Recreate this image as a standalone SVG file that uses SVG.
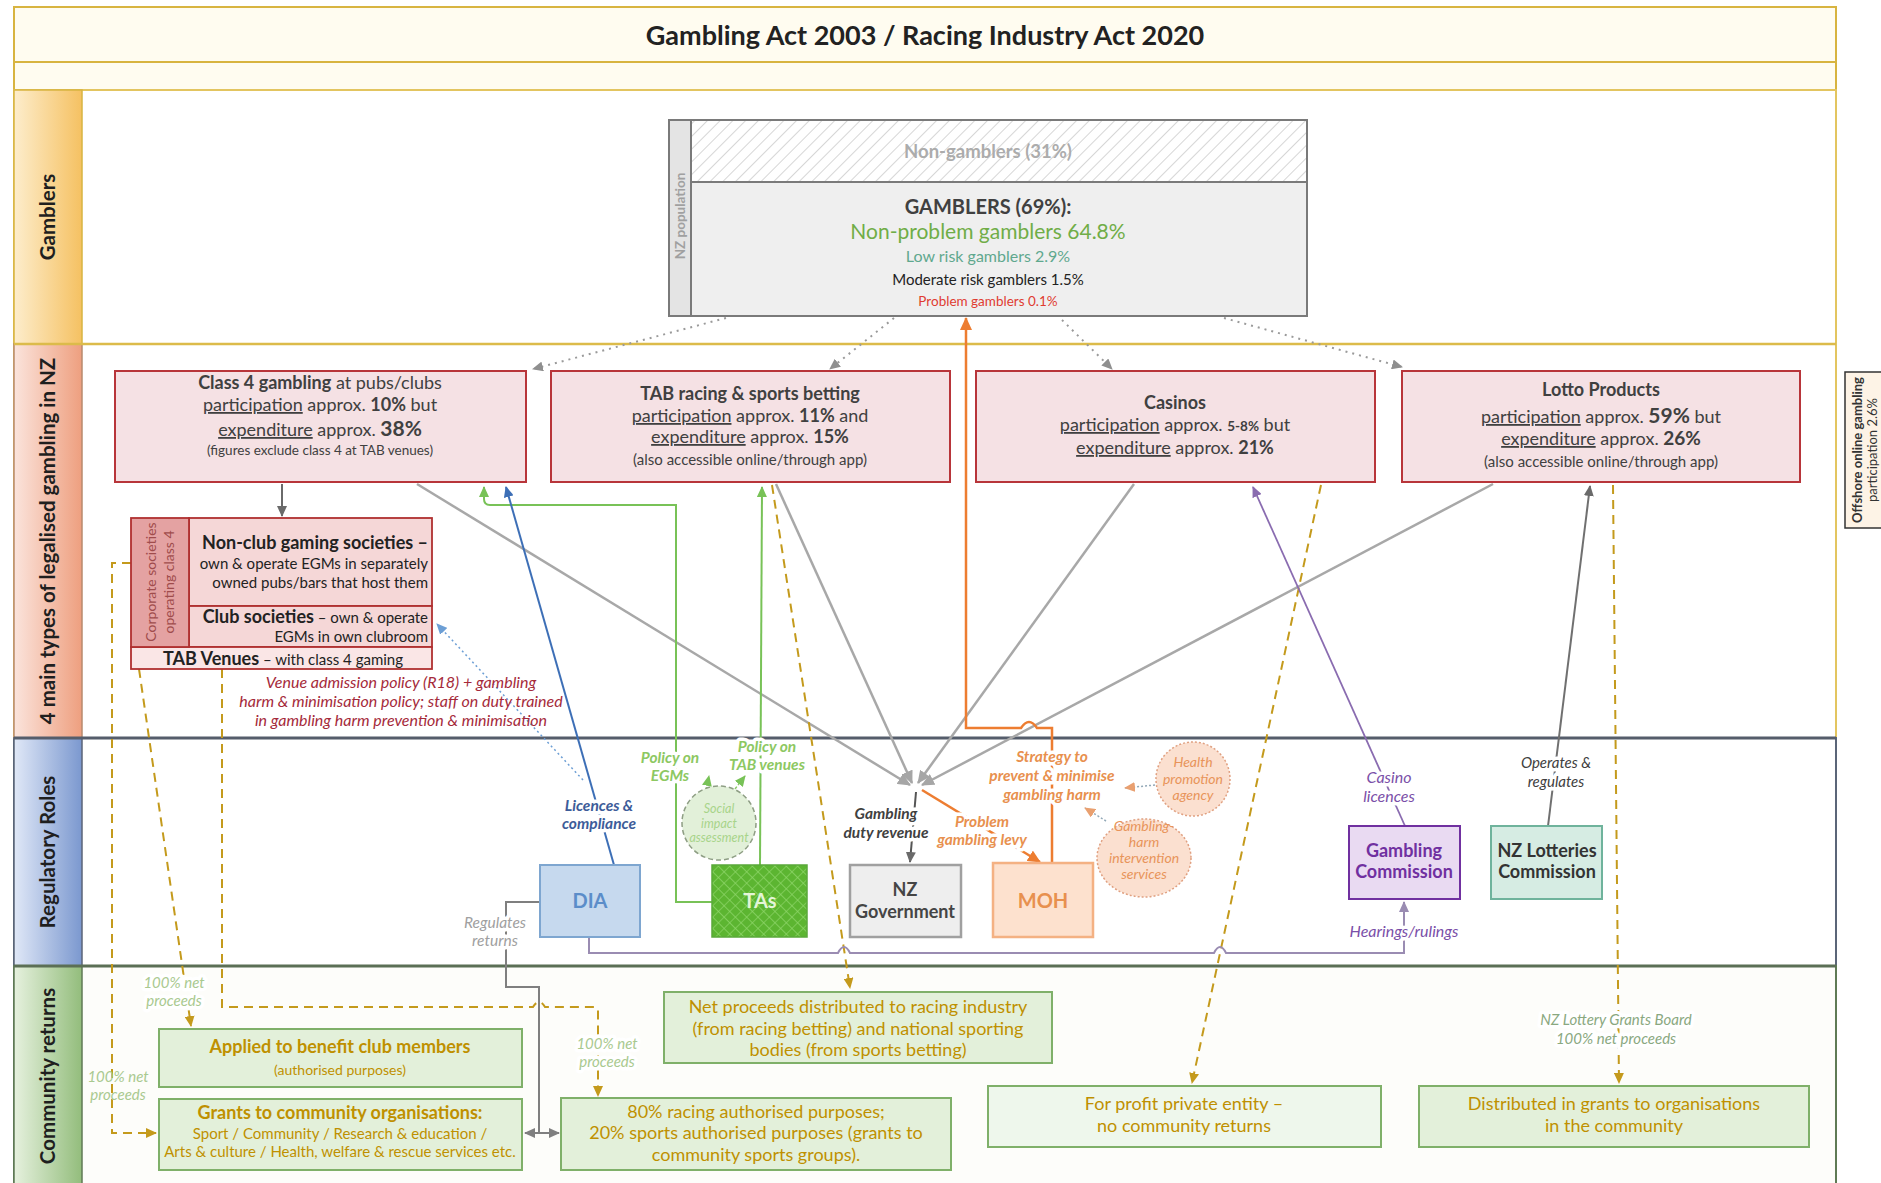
<svg xmlns="http://www.w3.org/2000/svg" width="1881" height="1183" viewBox="0 0 1881 1183">
<defs>
<style>
text{font-family:Lato,"Open Sans","Liberation Sans",sans-serif;}
.ll{font-size:20.5px;font-weight:700;fill:#1f1f1f;text-anchor:middle;}
.bx{fill:#f5e1e4;stroke:#b8353a;stroke-width:2;}
.bt{font-size:18px;fill:#404040;text-anchor:middle;}
.sm{font-size:15px;}
.u{text-decoration:underline;}
.b{font-weight:700;}
.cbox{fill:#e3f0da;stroke:#7fb069;stroke-width:2;}
.ct{font-size:18px;fill:#bf9000;text-anchor:middle;}
.halo{paint-order:stroke;stroke:#fff;stroke-width:7px;stroke-linejoin:round;}
.lbl{font-style:italic;font-weight:700;font-size:15.5px;text-anchor:middle;}
.nl{font-style:italic;font-size:15px;fill:#a9c98f;text-anchor:middle;}
.ci{font-style:italic;text-anchor:middle;}
.ln{fill:none;}
.gray{stroke:#a8a8a8;stroke-width:2.5;}
.gold{stroke:#c49a1c;stroke-width:2;stroke-dasharray:9 6;}
</style>
<marker id="aGray" markerUnits="userSpaceOnUse" markerWidth="14" markerHeight="12" refX="12" refY="6" orient="auto"><path d="M0,0 L13,6 L0,12 z" fill="#a6a6a6"/></marker>
<marker id="aDot" markerUnits="userSpaceOnUse" markerWidth="12" markerHeight="10" refX="10" refY="5" orient="auto"><path d="M0,0 L11,5 L0,10 z" fill="#8f8f8f"/></marker>
<marker id="aDark" markerUnits="userSpaceOnUse" markerWidth="12" markerHeight="10" refX="10" refY="5" orient="auto"><path d="M0,0 L11,5 L0,10 z" fill="#6a6a6a"/></marker>
<marker id="aGreen" markerUnits="userSpaceOnUse" markerWidth="12" markerHeight="10" refX="10" refY="5" orient="auto"><path d="M0,0 L11,5 L0,10 z" fill="#78c257"/></marker>
<marker id="aBlue" markerUnits="userSpaceOnUse" markerWidth="12" markerHeight="10" refX="10" refY="5" orient="auto"><path d="M0,0 L11,5 L0,10 z" fill="#3d6fb6"/></marker>
<marker id="aLBlue" markerUnits="userSpaceOnUse" markerWidth="12" markerHeight="10" refX="10" refY="5" orient="auto"><path d="M0,0 L11,5 L0,10 z" fill="#6d9fd5"/></marker>
<marker id="aOrange" markerUnits="userSpaceOnUse" markerWidth="14" markerHeight="12" refX="12" refY="6" orient="auto"><path d="M0,0 L13,6 L0,12 z" fill="#ed7d31"/></marker>
<marker id="aLOrange" markerUnits="userSpaceOnUse" markerWidth="12" markerHeight="10" refX="10" refY="5" orient="auto"><path d="M0,0 L11,5 L0,10 z" fill="#e9a070"/></marker>
<marker id="aPurple" markerUnits="userSpaceOnUse" markerWidth="12" markerHeight="10" refX="10" refY="5" orient="auto"><path d="M0,0 L11,5 L0,10 z" fill="#8a6cb0"/></marker>
<marker id="aPG" markerUnits="userSpaceOnUse" markerWidth="12" markerHeight="10" refX="10" refY="5" orient="auto"><path d="M0,0 L11,5 L0,10 z" fill="#9a8cb2"/></marker>
<marker id="aGold" markerUnits="userSpaceOnUse" markerWidth="12" markerHeight="10" refX="10" refY="5" orient="auto"><path d="M0,0 L11,5 L0,10 z" fill="#c49a1c"/></marker>
<marker id="aGrey2" markerUnits="userSpaceOnUse" markerWidth="12" markerHeight="10" refX="10" refY="5" orient="auto"><path d="M0,0 L11,5 L0,10 z" fill="#7f7f7f"/></marker>
<pattern id="hatch" width="9" height="9" patternUnits="userSpaceOnUse" patternTransform="rotate(45)"><rect width="9" height="9" fill="#fff"/><line x1="0" y1="0" x2="0" y2="9" stroke="#c9c9c9" stroke-width="1.5"/></pattern>
<pattern id="tas" width="8" height="8" patternUnits="userSpaceOnUse" patternTransform="rotate(45)"><rect width="8" height="8" fill="#5cb531"/><path d="M0,0 H8 M0,0 V8" stroke="#8fd66a" stroke-width="1.3"/></pattern>
<linearGradient id="gG" x1="0" y1="0" x2="1" y2="0"><stop offset="0" stop-color="#fdedcc"/><stop offset="1" stop-color="#f5c162"/></linearGradient>
<linearGradient id="gR" x1="0" y1="0" x2="1" y2="0"><stop offset="0" stop-color="#fbe4dc"/><stop offset="1" stop-color="#ee9f7f"/></linearGradient>
<linearGradient id="gB" x1="0" y1="0" x2="1" y2="0"><stop offset="0" stop-color="#e0e8f7"/><stop offset="1" stop-color="#7b98cf"/></linearGradient>
<linearGradient id="gC" x1="0" y1="0" x2="1" y2="0"><stop offset="0" stop-color="#e6f1de"/><stop offset="1" stop-color="#93bd7c"/></linearGradient>
</defs>

<g id="frame">
<rect x="14" y="7" width="1822" height="55" fill="#fffcf0" stroke="#d8b440" stroke-width="2"/>
<rect x="14" y="62" width="1822" height="28" fill="#fffcf0" stroke="#d8b440" stroke-width="2"/>
<text x="925" y="45" style="font-size:27px;font-weight:700;fill:#222;text-anchor:middle">Gambling Act 2003 / Racing Industry Act 2020</text>
<rect x="14" y="90" width="1822" height="254" fill="#fff" stroke="#e3c560" stroke-width="2"/>
<rect x="14" y="344" width="1822" height="394" fill="#fff" stroke="#e3c560" stroke-width="2"/>
<rect x="14" y="738" width="1822" height="228" fill="#fff" stroke="#5b6578" stroke-width="2"/>
<rect x="14" y="966" width="1822" height="222" fill="#fdfdfa" stroke="#5f7a55" stroke-width="2"/>
<rect x="14" y="90" width="68" height="254" fill="url(#gG)" stroke="#d8b440" stroke-width="1.5"/>
<rect x="14" y="344" width="68" height="394" fill="url(#gR)" stroke="#b98a6e" stroke-width="1.5"/>
<rect x="14" y="738" width="68" height="228" fill="url(#gB)" stroke="#5b6578" stroke-width="1.5"/>
<rect x="14" y="966" width="68" height="222" fill="url(#gC)" stroke="#5f7a55" stroke-width="1.5"/>
<line x1="14" y1="344" x2="1836" y2="344" stroke="#dcbb4a" stroke-width="2.5"/>
<line x1="14" y1="738" x2="1836" y2="738" stroke="#555d6b" stroke-width="3"/>
<line x1="14" y1="966" x2="1836" y2="966" stroke="#5b6f55" stroke-width="3"/>
<text class="ll" transform="translate(55,217) rotate(-90)">Gamblers</text>
<text class="ll" transform="translate(55,541) rotate(-90)">4 main types of legalised gambling in NZ</text>
<text class="ll" transform="translate(55,852) rotate(-90)">Regulatory Roles</text>
<text class="ll" transform="translate(55,1076) rotate(-90)">Community returns</text>
</g>

<g id="connectors">
<path class="ln" d="M726,318 L533,369" stroke="#9a9a9a" stroke-width="2" stroke-dasharray="2 5" marker-end="url(#aDot)"/>
<path class="ln" d="M894,318 L830,369" stroke="#9a9a9a" stroke-width="2" stroke-dasharray="2 5" marker-end="url(#aDot)"/>
<path class="ln" d="M1062,320 L1112,369" stroke="#9a9a9a" stroke-width="2" stroke-dasharray="2 5" marker-end="url(#aDot)"/>
<path class="ln" d="M1224,318 L1402,367" stroke="#9a9a9a" stroke-width="2" stroke-dasharray="2 5" marker-end="url(#aDot)"/>
<path class="ln gray" d="M417,484 L910,785" marker-end="url(#aGray)"/>
<path class="ln gray" d="M776,484 L912,783" marker-end="url(#aGray)"/>
<path class="ln gray" d="M1134,484 L918,783" marker-end="url(#aGray)"/>
<path class="ln gray" d="M1493,484 L922,785" marker-end="url(#aGray)"/>
<path class="ln" d="M282,484 L282,516" stroke="#6a6a6a" stroke-width="2" marker-end="url(#aDark)"/>
<path class="ln gold" d="M772,485 L850,988" marker-end="url(#aGold)"/>
<path class="ln gold" d="M1321,485 L1192,1083" marker-end="url(#aGold)"/>
<path class="ln gold" d="M1613,485 L1619,1083" marker-end="url(#aGold)"/>
<path class="ln gold" d="M131,563 L112,563 L112,1133 L156,1133" marker-end="url(#aGold)"/>
<path class="ln gold" d="M139,669 L191,1026" marker-end="url(#aGold)"/>
<path class="ln gold" d="M222,669 L222,1007 L533,1007 Q539,997 545,1007 L594,1007 Q598,1007 598,1011 L598,1096" marker-end="url(#aGold)"/>
<path class="ln" d="M1052,863 L1052,728 L1037,728 Q1029,716 1021,728 L966,728 L966,318" stroke="#ed7d31" stroke-width="2.5" marker-end="url(#aOrange)"/>
<path class="ln" d="M916,792 L910,862" stroke="#555" stroke-width="2" marker-end="url(#aDark)"/>
<path class="ln" d="M922,790 L1040,862" stroke="#ed7d31" stroke-width="2.5" marker-end="url(#aOrange)"/>
<path class="ln" d="M712,902 L676,902 L676,505 L490,505 Q484,505 484,499 L484,487" stroke="#78c257" stroke-width="2" marker-end="url(#aGreen)"/>
<path class="ln" d="M760,865 L762,487" stroke="#78c257" stroke-width="2" marker-end="url(#aGreen)"/>
<path class="ln" d="M706,790 L709,776" stroke="#8cc86a" stroke-width="1.5" stroke-dasharray="3 2" marker-end="url(#aGreen)"/>
<path class="ln" d="M735,789 L745,776" stroke="#8cc86a" stroke-width="1.5" stroke-dasharray="3 2" marker-end="url(#aGreen)"/>
<path class="ln" d="M614,865 L506,487" stroke="#3d6fb6" stroke-width="2" marker-end="url(#aBlue)"/>
<path class="ln" d="M583,780 L437,624" stroke="#6d9fd5" stroke-width="1.5" stroke-dasharray="2 3" marker-end="url(#aLBlue)"/>
<path class="ln" d="M540,902 L506,902 L506,987 L539,987 L539,1133" stroke="#7f7f7f" stroke-width="2"/>
<path class="ln" d="M539,1133 L525,1133" stroke="#7f7f7f" stroke-width="2" marker-end="url(#aGrey2)"/>
<path class="ln" d="M539,1133 L559,1133" stroke="#7f7f7f" stroke-width="2" marker-end="url(#aGrey2)"/>
<path class="ln" d="M589,937 L589,953 L838,953 Q844,941 850,953 L1214,953 Q1220,941 1226,953 L1404,953 L1404,902" stroke="#9a8cb2" stroke-width="2" marker-end="url(#aPG)"/>
<path class="ln" d="M1405,826 L1253,487" stroke="#8a6cb0" stroke-width="1.8" marker-end="url(#aPurple)"/>
<path class="ln" d="M1548,826 L1590,486" stroke="#707070" stroke-width="2" marker-end="url(#aDark)"/>
<path class="ln" d="M1155,785 L1125,788" stroke="#93a9b8" stroke-width="1.5" stroke-dasharray="2 2" marker-end="url(#aLOrange)"/>
<path class="ln" d="M1106,821 L1085,808" stroke="#93a9b8" stroke-width="1.5" stroke-dasharray="2 2" marker-end="url(#aLOrange)"/>
</g>

<g id="gamblers">
<rect x="669" y="120" width="638" height="196" fill="#efefef" stroke="#7a7a7a" stroke-width="2"/>
<rect x="691" y="120" width="616" height="62" fill="url(#hatch)" stroke="#7a7a7a" stroke-width="2"/>
<rect x="669" y="120" width="22" height="196" fill="#e4e4e4" stroke="#7a7a7a" stroke-width="2"/>
<text transform="translate(685,216) rotate(-90)" style="font-size:13.5px;font-weight:700;fill:#a0a0a0;text-anchor:middle">NZ population</text>
<text x="988" y="158" style="font-size:18.5px;font-weight:700;fill:#acacac;text-anchor:middle">Non-gamblers (31%)</text>
<text x="988" y="214" style="font-size:20px;font-weight:700;fill:#404040;text-anchor:middle">GAMBLERS (69%):</text>
<text x="988" y="239" style="font-size:21px;fill:#70ad47;text-anchor:middle">Non-problem gamblers 64.8%</text>
<text x="988" y="262" style="font-size:16px;fill:#5fa88e;text-anchor:middle">Low risk gamblers 2.9%</text>
<text x="988" y="285" style="font-size:15px;fill:#222;text-anchor:middle">Moderate risk gamblers 1.5%</text>
<text x="988" y="306" style="font-size:13.5px;fill:#e03c31;text-anchor:middle">Problem gamblers 0.1%</text>
</g>

<g id="offshore">
<rect x="1845" y="372" width="45" height="156" fill="#fdf3e6" stroke="#333" stroke-width="1.5"/>
<text transform="translate(1862,450) rotate(-90)" style="font-size:13px;font-weight:700;fill:#333;text-anchor:middle">Offshore online gambling</text>
<text transform="translate(1877,450) rotate(-90)" style="font-size:13px;fill:#333;text-anchor:middle">participation 2.6%</text>
</g>

<g id="class4">
<rect class="bx" x="115" y="371" width="411" height="111"/>
<text class="bt" x="320" y="389"><tspan class="b">Class 4 gambling</tspan> at pubs/clubs</text>
<text class="bt" x="320" y="411"><tspan class="u">participation</tspan> approx. <tspan class="b">10%</tspan> but</text>
<text class="bt" x="320" y="436"><tspan class="u">expenditure</tspan> approx. <tspan class="b" style="font-size:21px">38%</tspan></text>
<text class="bt" x="320" y="455" style="font-size:13.5px">(figures exclude class 4 at TAB venues)</text>
</g>

<g id="tab">
<rect class="bx" x="551" y="371" width="399" height="111"/>
<text class="bt b" x="750" y="400">TAB racing &amp; sports betting</text>
<text class="bt" x="750" y="422"><tspan class="u">participation</tspan> approx. <tspan class="b">11%</tspan> and</text>
<text class="bt" x="750" y="443"><tspan class="u">expenditure</tspan> approx. <tspan class="b">15%</tspan></text>
<text class="bt sm" x="750" y="465">(also accessible online/through app)</text>
</g>

<g id="casinos">
<rect class="bx" x="976" y="371" width="399" height="111"/>
<text class="bt b" x="1175" y="409">Casinos</text>
<text class="bt" x="1175" y="431"><tspan class="u">participation</tspan> approx. <tspan class="b" style="font-size:13.5px">5-8%</tspan> but</text>
<text class="bt" x="1175" y="454"><tspan class="u">expenditure</tspan> approx. <tspan class="b">21%</tspan></text>
</g>

<g id="lotto">
<rect class="bx" x="1402" y="371" width="398" height="111"/>
<text class="bt b" x="1601" y="396">Lotto Products</text>
<text class="bt" x="1601" y="423"><tspan class="u">participation</tspan> approx. <tspan class="b" style="font-size:21px">59%</tspan> but</text>
<text class="bt" x="1601" y="445"><tspan class="u">expenditure</tspan> approx. <tspan class="b" style="font-size:19px">26%</tspan></text>
<text class="bt sm" x="1601" y="467">(also accessible online/through app)</text>
</g>

<g id="societies">
<rect x="189" y="518" width="243" height="88" fill="#f5d7d7" stroke="#b03030" stroke-width="1.8"/>
<rect x="189" y="606" width="243" height="41" fill="#f5d7d7" stroke="#b03030" stroke-width="1.8"/>
<rect x="131" y="647" width="301" height="22" fill="#fae6e6" stroke="#b03030" stroke-width="1.8"/>
<rect x="131" y="518" width="58" height="129" fill="#e4a2a2" stroke="#b03030" stroke-width="1.8"/>
<text transform="translate(156,582) rotate(-90)" style="font-size:14px;fill:#a04c4c;text-anchor:middle">Corporate societies</text>
<text transform="translate(174,582) rotate(-90)" style="font-size:14px;fill:#a04c4c;text-anchor:middle">operating class 4</text>
<text x="428" y="549" style="font-size:18px;font-weight:700;fill:#222;text-anchor:end">Non-club gaming societies –</text>
<text x="428" y="569" style="font-size:15px;fill:#222;text-anchor:end">own &amp; operate EGMs in separately</text>
<text x="428" y="588" style="font-size:15px;fill:#222;text-anchor:end">owned pubs/bars that host them</text>
<text x="428" y="623" style="font-size:15px;fill:#222;text-anchor:end"><tspan style="font-size:18px;font-weight:700">Club societies</tspan> – own &amp; operate</text>
<text x="428" y="642" style="font-size:15px;fill:#222;text-anchor:end">EGMs in own clubroom</text>
<text x="283" y="665" style="font-size:15px;fill:#222;text-anchor:middle"><tspan style="font-size:18px;font-weight:700">TAB Venues</tspan> – with class 4 gaming</text>
<text x="401" y="688" style="font-size:16px;font-style:italic;fill:#a52a3a;text-anchor:middle">Venue admission policy (R18) + gambling</text>
<text x="401" y="707" style="font-size:16px;font-style:italic;fill:#a52a3a;text-anchor:middle">harm &amp; minimisation policy; staff on duty trained</text>
<text x="401" y="726" style="font-size:16px;font-style:italic;fill:#a52a3a;text-anchor:middle">in gambling harm prevention &amp; minimisation</text>
</g>

<g id="labels">
<text class="lbl halo" x="599" y="811" style="fill:#3d5c99">Licences &amp;</text>
<text class="lbl halo" x="599" y="829" style="fill:#3d5c99">compliance</text>
<text class="lbl halo" x="670" y="763" style="fill:#8dc862">Policy on</text>
<text class="lbl halo" x="670" y="781" style="fill:#8dc862">EGMs</text>
<text class="lbl halo" x="767" y="752" style="fill:#8dc862">Policy on</text>
<text class="lbl halo" x="767" y="770" style="fill:#8dc862">TAB venues</text>
<text class="lbl halo" x="886" y="819" style="fill:#404040">Gambling</text>
<text class="lbl halo" x="886" y="838" style="fill:#404040">duty revenue</text>
<text class="lbl halo" x="982" y="827" style="fill:#e8904e">Problem</text>
<text class="lbl halo" x="982" y="845" style="fill:#e8904e">gambling levy</text>
<text class="lbl halo" x="1052" y="762" style="fill:#e8904e">Strategy to</text>
<text class="lbl halo" x="1052" y="781" style="fill:#e8904e">prevent &amp; minimise</text>
<text class="lbl halo" x="1052" y="800" style="fill:#e8904e">gambling harm</text>
<text class="lbl halo" x="495" y="928" style="fill:#a0a0a0;font-weight:400">Regulates</text>
<text class="lbl halo" x="495" y="946" style="fill:#a0a0a0;font-weight:400">returns</text>
<text class="lbl halo" x="1389" y="783" style="fill:#7a4fa8;font-weight:400;font-size:16px">Casino</text>
<text class="lbl halo" x="1389" y="802" style="fill:#7a4fa8;font-weight:400;font-size:16px">licences</text>
<text class="lbl halo" x="1556" y="768" style="fill:#404040;font-weight:400;font-size:15px">Operates &amp;</text>
<text class="lbl halo" x="1556" y="787" style="fill:#404040;font-weight:400;font-size:15px">regulates</text>
<text class="lbl halo" x="1404" y="937" style="fill:#7a4fa8;font-weight:400;font-size:16px">Hearings/rulings</text>
<text class="nl halo" x="174" y="988">100% net</text>
<text class="nl halo" x="174" y="1006">proceeds</text>
<text class="nl" x="118" y="1082">100% net</text>
<text class="nl" x="118" y="1100">proceeds</text>
<text class="nl halo" x="607" y="1049">100% net</text>
<text class="nl halo" x="607" y="1067">proceeds</text>
<text class="nl halo" x="1616" y="1025" style="fill:#8aa880">NZ Lottery Grants Board</text>
<text class="nl halo" x="1616" y="1044" style="fill:#8aa880">100% net proceeds</text>
</g>

<g id="social-impact">
<circle cx="719" cy="823" r="37" fill="#e2f0d9" stroke="#8e9e84" stroke-width="1.5" stroke-dasharray="5 3"/>
<text class="ci" x="719" y="813" style="font-size:12.5px;fill:#a8d48a">Social</text>
<text class="ci" x="719" y="828" style="font-size:12.5px;fill:#a8d48a">impact</text>
<text class="ci" x="719" y="842" style="font-size:12.5px;fill:#a8d48a">assessment</text>
</g>

<g id="dia">
<rect x="540" y="865" width="100" height="72" fill="#c6d9ee" stroke="#7ea6d0" stroke-width="2"/>
<text x="590" y="908" style="font-size:20px;font-weight:700;fill:#5b8dc9;text-anchor:middle">DIA</text>
</g>

<g id="tas-node">
<rect x="712" y="865" width="95" height="72" fill="url(#tas)" stroke="#5aa83a" stroke-width="1.5"/>
<text x="760" y="908" style="font-size:20px;font-weight:700;fill:#e4f5d8;text-anchor:middle">TAs</text>
</g>

<g id="nzgov">
<rect x="850" y="865" width="111" height="72" fill="#eeeeee" stroke="#a0a0a0" stroke-width="2.5"/>
<text x="905" y="896" style="font-size:18px;font-weight:700;fill:#454545;text-anchor:middle">NZ</text>
<text x="905" y="918" style="font-size:18px;font-weight:700;fill:#454545;text-anchor:middle">Government</text>
</g>

<g id="moh">
<rect x="993" y="863" width="100" height="74" fill="#fde1ce" stroke="#f4b183" stroke-width="2.5"/>
<text x="1043" y="908" style="font-size:20px;font-weight:700;fill:#e8904e;text-anchor:middle">MOH</text>
</g>

<g id="health-promotion">
<circle cx="1193" cy="779" r="37" fill="#fbe0d0" stroke="#e0a080" stroke-width="1.5" stroke-dasharray="2 2"/>
<text class="ci" x="1193" y="767" style="font-size:14px;fill:#e8945a">Health</text>
<text class="ci" x="1193" y="784" style="font-size:14px;fill:#e8945a">promotion</text>
<text class="ci" x="1193" y="800" style="font-size:14px;fill:#e8945a">agency</text>
</g>

<g id="harm-services">
<ellipse cx="1144" cy="858" rx="47" ry="39" fill="#fbe0d0" stroke="#e0a080" stroke-width="1.5" stroke-dasharray="2 2"/>
<text class="ci" x="1144" y="831" style="font-size:14px;fill:#e8945a">Gambling-</text>
<text class="ci" x="1144" y="847" style="font-size:14px;fill:#e8945a">harm</text>
<text class="ci" x="1144" y="863" style="font-size:14px;fill:#e8945a">intervention</text>
<text class="ci" x="1144" y="879" style="font-size:14px;fill:#e8945a">services</text>
</g>

<g id="gambling-commission">
<rect x="1349" y="826" width="111" height="73" fill="#e9daf2" stroke="#7030a0" stroke-width="2"/>
<text x="1404" y="857" style="font-size:18px;font-weight:700;fill:#7030a0;text-anchor:middle">Gambling</text>
<text x="1404" y="878" style="font-size:18px;font-weight:700;fill:#7030a0;text-anchor:middle">Commission</text>
</g>

<g id="nz-lotteries">
<rect x="1491" y="826" width="111" height="73" fill="#d6ece3" stroke="#6fb39c" stroke-width="2"/>
<text x="1547" y="857" style="font-size:18px;font-weight:700;fill:#333;text-anchor:middle">NZ Lotteries</text>
<text x="1547" y="878" style="font-size:18px;font-weight:700;fill:#333;text-anchor:middle">Commission</text>
</g>

<g id="club-members">
<rect class="cbox" x="159" y="1029" width="363" height="58"/>
<text class="ct b" x="340" y="1053">Applied to benefit club members</text>
<text class="ct" x="340" y="1075" style="font-size:14px">(authorised purposes)</text>
</g>

<g id="community-grants">
<rect class="cbox" x="159" y="1099" width="363" height="71"/>
<text class="ct b" x="340" y="1119">Grants to community organisations:</text>
<text class="ct" x="340" y="1139" style="font-size:15px">Sport / Community / Research &amp; education /</text>
<text class="ct" x="340" y="1157" style="font-size:15px">Arts &amp; culture / Health, welfare &amp; rescue services etc.</text>
</g>

<g id="net-proceeds">
<rect class="cbox" x="664" y="992" width="388" height="71"/>
<text class="ct" x="858" y="1013">Net proceeds distributed to racing industry</text>
<text class="ct" x="858" y="1035">(from racing betting) and national sporting</text>
<text class="ct" x="858" y="1056">bodies (from sports betting)</text>
</g>

<g id="racing-purposes">
<rect class="cbox" x="561" y="1098" width="390" height="72"/>
<text class="ct" x="756" y="1118">80% racing authorised purposes;</text>
<text class="ct" x="756" y="1139">20% sports authorised purposes (grants to</text>
<text class="ct" x="756" y="1161">community sports groups).</text>
</g>

<g id="for-profit">
<rect class="cbox" x="988" y="1086" width="393" height="61" style="fill:#eef7ec"/>
<text class="ct" x="1184" y="1110">For profit private entity –</text>
<text class="ct" x="1184" y="1132">no community returns</text>
</g>

<g id="lottery-grants">
<rect class="cbox" x="1419" y="1086" width="390" height="61"/>
<text class="ct" x="1614" y="1110">Distributed in grants to organisations</text>
<text class="ct" x="1614" y="1132">in the community</text>
</g>
</svg>
